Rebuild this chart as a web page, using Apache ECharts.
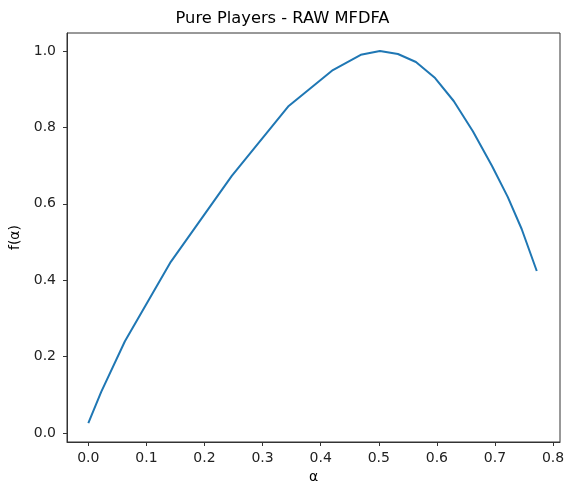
<!DOCTYPE html>
<html>
<head>
<meta charset="utf-8">
<script src="https://cdn.jsdelivr.net/npm/echarts@6/dist/echarts.min.js"></script>
<style>html,body{margin:0;padding:0;background:#fff}#c{width:565px;height:484px}</style>
</head>
<body>
<div id="c"></div>
<script>
const alpha = [0.0, 0.022, 0.063, 0.142, 0.247, 0.345, 0.421, 0.469, 0.502, 0.533, 0.564, 0.597, 0.629, 0.662, 0.695, 0.722, 0.746, 0.772];
const fAlpha = [0.026, 0.107, 0.24, 0.448, 0.673, 0.856, 0.95, 0.99, 1.0, 0.992, 0.971, 0.929, 0.869, 0.79, 0.699, 0.618, 0.534, 0.424];
const xTicks = [0.0, 0.1, 0.2, 0.3, 0.4, 0.5, 0.6, 0.7, 0.8];
const yTicks = [0.0, 0.2, 0.4, 0.6, 0.8, 1.0];
const titleText = 'Pure Players - RAW MFDFA';
const xName = 'α';
const yName = 'f(α)';

const font = 'DejaVu Sans';
const chart = echarts.init(document.getElementById('c'));
chart.setOption({
  animation: false,
  backgroundColor: '#fff',
  title: {
    text: titleText, left: 'center', top: 6,
    textStyle: {fontFamily: font, fontSize: 16.3, fontWeight: 'normal', color: '#000'}
  },
  grid: {left: 67, right: 5, top: 33, bottom: 42, outerBoundsMode: 'none', containLabel: false, show: true, borderColor: '#333', borderWidth: 1, backgroundColor: 'transparent'},
  xAxis: {
    type: 'value', min: -0.0367, max: 0.812,
    name: xName, nameLocation: 'middle', nameGap: 26,
    nameTextStyle: {fontFamily: font, fontSize: 14, color: '#000'},
    splitLine: {show: false},
    axisLine: {show: true, onZero: false, lineStyle: {color: '#333', width: 1}},
    axisTick: {show: true, length: 4, inside: false, customValues: xTicks, lineStyle: {color: '#333'}},
    axisLabel: {customValues: xTicks, margin: 9, fontFamily: font, fontSize: 14, color: '#222', formatter: v => v.toFixed(1)}
  },
  yAxis: {
    type: 'value', min: -0.0236, max: 1.047,
    name: yName, nameLocation: 'middle', nameGap: 35, nameRotate: 90,
    nameTextStyle: {fontFamily: font, fontSize: 14, color: '#000'},
    splitLine: {show: false},
    axisLine: {show: true, onZero: false, lineStyle: {color: '#333', width: 1}},
    axisTick: {show: true, length: 4, inside: false, customValues: yTicks, lineStyle: {color: '#333'}},
    axisLabel: {customValues: yTicks, margin: 11, fontFamily: font, fontSize: 14, color: '#222', formatter: v => v.toFixed(1)}
  },
  series: [{
    type: 'line',
    data: alpha.map((a, i) => [a, fAlpha[i]]),
    showSymbol: false,
    lineStyle: {color: '#1f77b4', width: 2},
    itemStyle: {color: '#1f77b4'}
  }]
});
</script>
</body>
</html>
